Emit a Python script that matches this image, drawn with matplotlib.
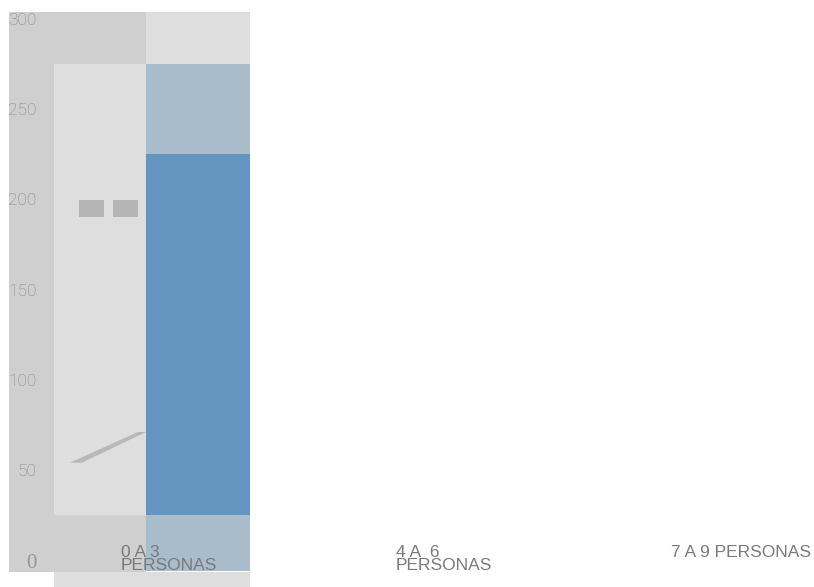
import matplotlib
matplotlib.use("Agg")
import matplotlib.pyplot as plt
from matplotlib.patches import Rectangle, Polygon

# data
categories = ["0 A 3\nPERSONAS", "4 A  6\nPERSONAS", "7 A 9 PERSONAS"]
y_ticks = [0, 50, 100, 150, 200, 250, 300]
bar_low, bar_high = 26, 226        # dark blue bar
band_low, band_high = -5, 276      # light blue band
marker_value = 196                 # the two grey squares
line_values = [55, 72]             # grey slanted line

W, H = 814, 587
PX_PER_UNIT = 1.806
ZERO_PX = 562                      # pixel row of value 0


def v(px):
    # pixel row -> value
    return (ZERO_PX - px) / PX_PER_UNIT


fig = plt.figure(figsize=(W / 100, H / 100), dpi=100)
ax = fig.add_axes([0, 0, 1, 1])
ax.set_xlim(0, W)
ax.set_ylim(v(H), v(0))
ax.axis("off")

dark = "#cfcfcf"
light = "#dedede"
pale_blue = "#a9bccb"
blue = "#6595c1"


def rect(x0, x1, y0, y1, c):
    ax.add_patch(Rectangle((x0, y0), x1 - x0, y1 - y0, color=c, lw=0))


# background panels
rect(9, 146, v(572), v(12), dark)
rect(146, 250, v(64), v(12), light)
rect(54, 146, v(515), v(64), light)
rect(54, 250, v(H), v(572), light)

# bars
rect(146, 250, band_low, band_high, pale_blue)
rect(146, 250, bar_low, bar_high, blue)

# grey squares and line
sq_h = 17 / PX_PER_UNIT
for x0 in (79, 113):
    rect(x0, x0 + 25, marker_value - sq_h / 2, marker_value + sq_h / 2, "#b5b5b5")
ax.add_patch(Polygon([(70, line_values[0]), (82, line_values[0]), (146, line_values[1]),
                      (138, line_values[1])], closed=True, color="#b8b8b8", lw=0))

# y tick labels
for t in y_ticks:
    if t == 0:
        ax.text(37, t - 1, "0", ha="right", va="center", fontsize=15,
                family=["Liberation Serif", "DejaVu Serif"], color="#959595")
    else:
        ax.text(36.5, t, str(t), ha="right", va="center", fontsize=12.5,
                family=["Roboto", "DejaVu Sans"], fontweight="light", color="#868686")

# category labels
for i, lab in enumerate(categories):
    ax.text(121 + 275 * i, v(545), lab, ha="left", va="top", fontsize=12.5,
            family=["Liberation Sans", "DejaVu Sans"], color="#7a7a7a",
            linespacing=0.85)

fig.savefig("out.png", dpi=100, facecolor="white")
